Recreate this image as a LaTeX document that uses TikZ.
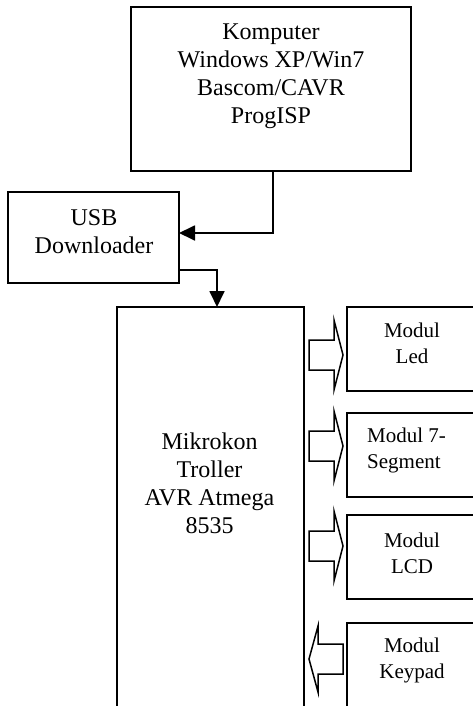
\documentclass[tikz,border=0pt]{standalone}
\usepackage{fontspec}
\setmainfont{Liberation Serif}
\usetikzlibrary{arrows.meta,calc}
\begin{document}
\begin{tikzpicture}[x=1pt,y=-1pt,
  box/.style={draw, line width=1.8pt, inner sep=0pt, outer sep=0pt, anchor=north west},
  bigtxt/.style={align=center, font=\fontsize{24}{28}\selectfont, inner sep=0pt},
  smalltxt/.style={align=center, font=\fontsize{21}{26}\selectfont, inner sep=0pt},
  conn/.style={line width=1.8pt, -{Triangle[length=16pt,width=15pt]}},
  blk/.style={draw, line width=1.5pt, line join=miter},
]
\useasboundingbox (0,0) rectangle (473,706);
\clip (0,0) rectangle (473,706);
% boxes
\node[box, minimum width=280pt, minimum height=164pt] (komp) at (131,7) {};
\node[box, minimum width=171pt, minimum height=91pt] (usb) at (8,192) {};
\node[box, minimum width=187pt, minimum height=460pt] (mcu) at (117,307) {};
\node[box, minimum width=140pt, minimum height=84pt] (led) at (347,307) {};
\node[box, minimum width=140pt, minimum height=84pt] (seg) at (347,413) {};
\node[box, minimum width=140pt, minimum height=84pt] (lcd) at (347,515) {};
\node[box, minimum width=140pt, minimum height=140pt] (key) at (347,623) {};
% texts
\node[bigtxt] (kompt) at (271,76.2) {Komputer\\Windows XP/Win7\\Bascom/CAVR\\ProgISP};
\node[bigtxt] (usbt) at (94,232) {USB\\Downloader};
\node[bigtxt] (mcut) at (209.5,483) {Mikrokon\\Troller\\AVR Atmega\\8535};
\node[smalltxt] (ledt) at (412,342.9) {Modul\\Led};
\node[smalltxt, align=left, anchor=west] (segt) at (367,450.2) {Modul 7-\\Segment};
\node[smalltxt] (lcdt) at (412,552.9) {Modul\\LCD};
\node[smalltxt] (keyt) at (412,660.2) {Modul\\Keypad};
% connectors
\draw[conn] ($(komp.south)+(2,0)$) |- ($(usb.east)+(0,-4.5)$);
\draw[conn] ($(usb.east)+(0,32.5)$) -| ($(mcu.north)+(6.5,0)$);
% block arrows
\foreach \c in {355,446,546}{
  \draw[blk] (309,\c-15) -- (334,\c-15) -- (334,\c-35) -- (343,\c) -- (334,\c+35) -- (334,\c+15) -- (309,\c+15) -- cycle;
}
\draw[blk] (343,644) -- (318,644) -- (318,626) -- (309,659) -- (318,692) -- (318,674) -- (343,674) -- cycle;
\end{tikzpicture}
\end{document}
